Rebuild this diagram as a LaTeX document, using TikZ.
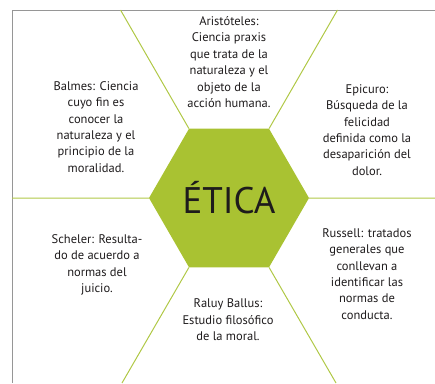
\documentclass[tikz,border=0pt]{standalone}
\usepackage{fontspec}
\setmainfont{PT Sans}
\usetikzlibrary{shapes.geometric}
\definecolor{eticagreen}{RGB}{169,194,50}
\definecolor{linegreen}{RGB}{176,200,70}
\definecolor{framegray}{RGB}{150,150,150}
\definecolor{txt}{RGB}{30,27,28}
\begin{document}
\begin{tikzpicture}[x=1pt,y=-1pt,
  desc/.style={align=center,text=txt,font=\fontsize{12.5}{16.4}\selectfont,inner sep=0pt},
  spoke/.style={draw=linegreen,line width=1pt},
  frame/.style={draw=framegray,line width=1pt}]
\useasboundingbox (0,0) rectangle (435,383);
% frame
\coordinate (ftr) at (435,10);
\coordinate (ftl) at (12,10);
\coordinate (fbl) at (12,383);
\draw[frame] (ftr) -- (ftl) -- (fbl);
% hexagon
\node[regular polygon,regular polygon sides=6,minimum size=160pt,inner sep=0pt,
      fill=eticagreen,text=txt,font=\fontsize{37}{40}\selectfont] (hex) at (229,198) {ÉTICA};
% spoke ends
\coordinate (eT1) at (120.5,10);
\coordinate (eT2) at (337.5,10);
\coordinate (eL) at (12,198);
\coordinate (eR) at (435,198);
\coordinate (eB1) at (122,383);
\coordinate (eB2) at (336,383);
\draw[spoke] (hex.120) -- (eT1);
\draw[spoke] (hex.60) -- (eT2);
\draw[spoke] (hex.180) -- (eL);
\draw[spoke] (hex.0) -- (eR);
\draw[spoke] (hex.240) -- (eB1);
\draw[spoke] (hex.300) -- (eB2);
% texts
\node[desc] (ari) at (229,62) {Aristóteles:\\Ciencia praxis\\que trata de la\\naturaleza y el\\objeto de la\\acción humana.};
\node[desc] (bal) at (96,127) {Balmes: Ciencia\\cuyo fin es\\conocer la\\naturaleza y el\\principio de la\\moralidad.};
\node[desc] (epi) at (367,130) {Epicuro:\\Búsqueda de la\\felicidad\\definida como la\\desaparición del\\dolor.};
\node[desc] (sch) at (97,265) {Scheler: Resulta-\\do de acuerdo a\\normas del\\juicio.};
\node[desc] (ral) at (228,320) {Raluy Ballus:\\Estudio filosófico\\de la moral.};
\node[desc] (rus) at (367,274) {Russell: tratados\\generales que\\conllevan a\\identificar las\\normas de\\conducta.};
\end{tikzpicture}
\end{document}
